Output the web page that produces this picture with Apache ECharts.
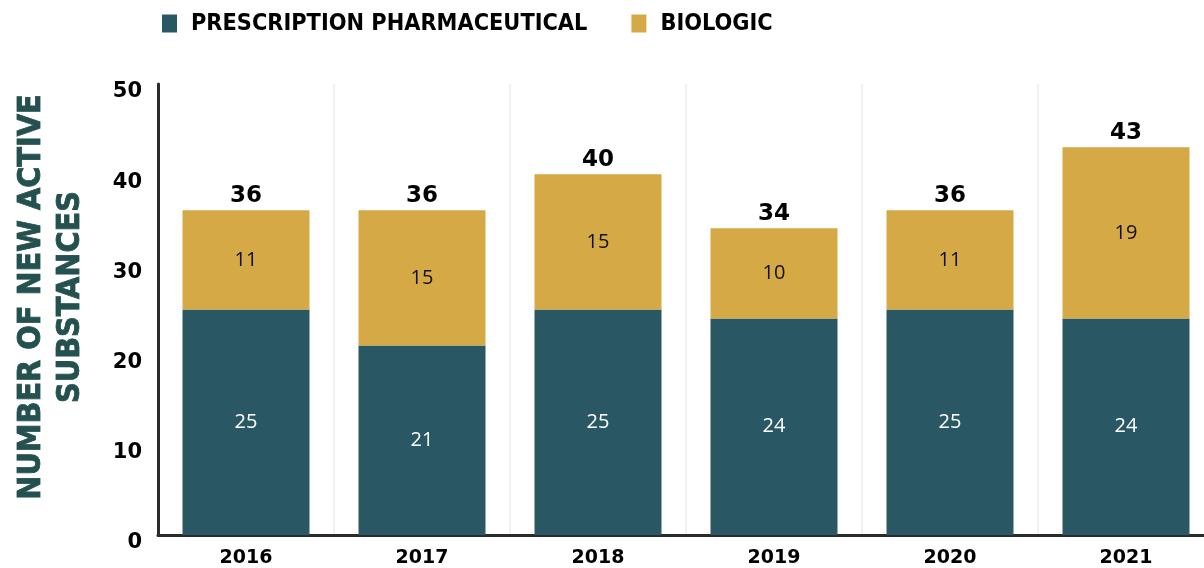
<!DOCTYPE html>
<html>
<head>
<meta charset="utf-8">
<script src="https://cdn.jsdelivr.net/npm/echarts@6/dist/echarts.min.js"></script>
<style>
  html, body { margin: 0; padding: 0; background: #ffffff; }
  #chart { width: 1204px; height: 568px; }
</style>
</head>
<body>
<div id="chart"></div>
<script>
// New active substances approved per year, split by type
const years = ['2016', '2017', '2018', '2019', '2020', '2021'];
const prescription = [25, 21, 25, 24, 25, 24];
const biologic = [11, 15, 15, 10, 11, 19];
const totals = years.map((_, i) => prescription[i] + biologic[i]);

const TEAL = '#295864';
const GOLD = '#d5a945';
const HEAVY = '"DejaVu Sans Condensed", "DejaVu Sans", sans-serif';
const ROUND = '"DejaVu Sans", sans-serif';

const chart = echarts.init(document.getElementById('chart'));

chart.setOption({
  animation: false,
  legend: {
    data: ['PRESCRIPTION PHARMACEUTICAL', 'BIOLOGIC'],
    left: 157,
    top: 7,
    itemWidth: 15,
    itemHeight: 18,
    itemGap: 44,
    icon: 'rect',
    textStyle: {
      fontFamily: HEAVY,
      fontWeight: 'bold',
      fontSize: 23.3,
      color: '#000000',
      padding: [0, 0, 0, 9]
    }
  },
  grid: {
    left: 158,
    top: 84,
    width: 1056,
    bottom: 33,
    outerBoundsMode: 'none',
    containLabel: false
  },
  graphic: [{
    type: 'text',
    x: 51,
    y: 297,
    rotation: Math.PI / 2,
    style: {
      text: 'NUMBER OF NEW ACTIVE\nSUBSTANCES',
      fontFamily: HEAVY,
      fontWeight: 'bold',
      fontSize: 32,
      lineHeight: 39,
      fill: '#24514f',
      stroke: '#24514f',
      lineWidth: 0.8,
      align: 'center',
      verticalAlign: 'middle'
    }
  }],
  xAxis: {
    type: 'category',
    data: years,
    axisLine: { show: true, lineStyle: { color: '#2b2b2b', width: 3 } },
    axisTick: { show: false },
    splitLine: { show: true, lineStyle: { color: '#f1f3f3', width: 2 } },
    axisLabel: {
      fontFamily: ROUND,
      fontWeight: 'bold',
      fontSize: 19,
      color: '#000000',
      margin: 14
    }
  },
  yAxis: {
    type: 'value',
    min: 0,
    max: 50,
    interval: 10,
    axisLine: { show: true, lineStyle: { color: '#2b2b2b', width: 3 } },
    axisTick: { show: false },
    splitLine: { show: false },
    axisLabel: {
      fontFamily: ROUND,
      fontWeight: 'bold',
      fontSize: 21,
      color: '#000000',
      margin: 16,
      verticalAlign: 'top',
      lineHeight: 16
    }
  },
  series: [
    {
      name: 'PRESCRIPTION PHARMACEUTICAL',
      type: 'bar',
      stack: 'total',
      data: prescription,
      barWidth: 127,
      itemStyle: { color: TEAL },
      label: {
        show: true,
        position: 'inside',
        color: '#ffffff',
        fontFamily: '"Open Sans", sans-serif',
        fontSize: 20
      }
    },
    {
      name: 'BIOLOGIC',
      type: 'bar',
      stack: 'total',
      data: biologic,
      barWidth: 127,
      itemStyle: { color: GOLD },
      label: {
        show: true,
        position: 'inside',
        color: '#111111',
        fontFamily: '"Open Sans", sans-serif',
        fontSize: 20
      }
    },
    {
      // zero-height cap carrying the stacked total
      name: 'total',
      type: 'bar',
      stack: 'total',
      data: totals.map(() => 0),
      barWidth: 127,
      itemStyle: { color: 'transparent' },
      label: {
        show: true,
        position: 'top',
        distance: 3,
        color: '#000000',
        fontFamily: ROUND,
        fontWeight: 'bold',
        fontSize: 23,
        formatter: (p) => String(totals[p.dataIndex])
      },
      silent: true
    }
  ]
});
</script>
</body>
</html>
